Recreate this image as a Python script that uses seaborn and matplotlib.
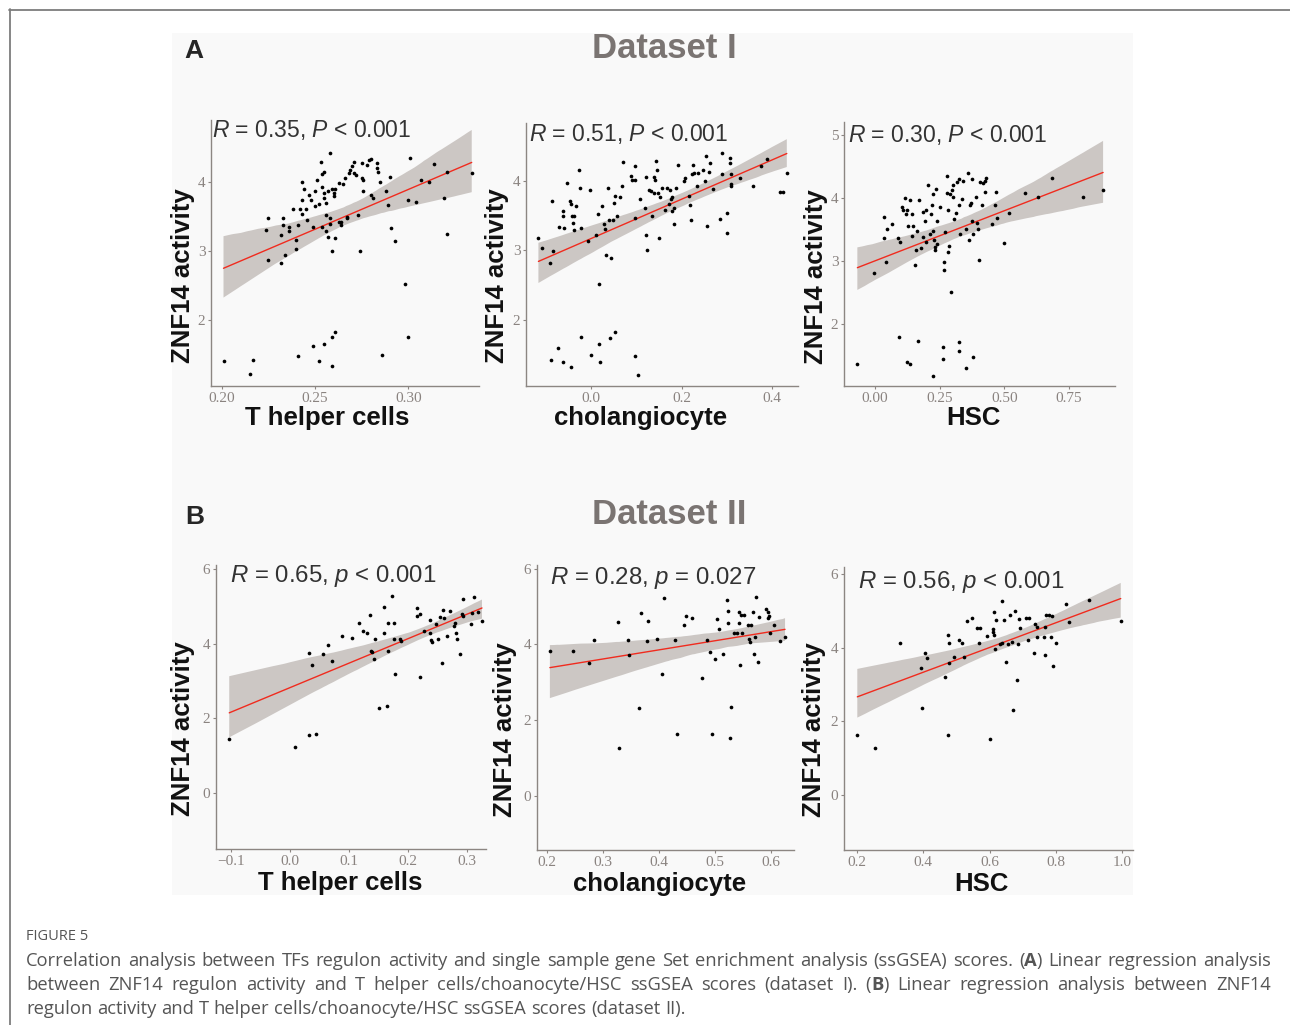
import numpy as np
import matplotlib
matplotlib.use('Agg')
import matplotlib.pyplot as plt
import seaborn as sns
from matplotlib.collections import PolyCollection
from matplotlib.lines import Line2D
from matplotlib.patches import Rectangle

# ---- data (x = ssGSEA score, y = ZNF14 regulon activity) ----

# dataset I, T helper cells
a_th_x = [0.201, 0.215, 0.217, 0.241, 0.249, 0.252, 0.255, 0.259, 0.261, 0.259,
          0.286, 0.298, 0.300, 0.224, 0.225, 0.225, 0.232, 0.232, 0.233, 0.234,
          0.233, 0.236, 0.236, 0.238, 0.240, 0.240, 0.241, 0.242, 0.243, 0.243,
          0.243, 0.244, 0.245, 0.246, 0.247, 0.248, 0.249, 0.250, 0.250, 0.251,
          0.252, 0.253, 0.254, 0.254, 0.254, 0.255, 0.255, 0.255, 0.256, 0.256,
          0.256, 0.257, 0.257, 0.258, 0.258, 0.258, 0.259, 0.259, 0.260, 0.260,
          0.261, 0.261, 0.263, 0.263, 0.264, 0.264, 0.265, 0.266, 0.267, 0.267,
          0.268, 0.269, 0.270, 0.271, 0.271, 0.272, 0.273, 0.274, 0.275, 0.275,
          0.276, 0.276, 0.278, 0.279, 0.280, 0.280, 0.281, 0.283, 0.283, 0.284,
          0.285, 0.288, 0.289, 0.290, 0.291, 0.293, 0.300, 0.301, 0.304, 0.307,
          0.311, 0.314, 0.319, 0.321, 0.321, 0.334]
a_th_y = [1.41, 1.22, 1.42, 1.48, 1.63, 1.41, 1.66, 1.75, 1.83, 1.34,
          1.50, 2.52, 1.75, 3.30, 2.87, 3.47, 2.83, 3.23, 3.47, 2.94,
          3.37, 3.35, 3.28, 3.60, 3.16, 3.02, 3.37, 3.61, 3.53, 3.73,
          3.99, 3.89, 3.60, 3.45, 3.81, 3.73, 3.35, 3.64, 3.87, 4.03,
          3.67, 4.29, 3.92, 3.35, 4.11, 4.14, 3.84, 3.77, 3.69, 3.52,
          3.29, 3.20, 3.86, 4.41, 3.39, 3.48, 3.89, 2.99, 3.79, 3.83,
          3.89, 3.18, 3.42, 3.98, 3.37, 3.41, 3.97, 4.05, 3.47, 3.49,
          4.12, 4.17, 4.23, 4.13, 4.29, 4.10, 3.52, 2.99, 4.27, 4.05,
          4.02, 3.86, 4.24, 4.31, 3.81, 4.32, 3.76, 4.19, 4.27, 4.14,
          4.00, 3.86, 3.66, 4.07, 3.33, 3.14, 3.74, 4.34, 3.70, 4.02,
          3.99, 4.25, 3.77, 4.14, 3.24, 4.13]

# dataset I, cholangiocyte
a_ch_x = [-0.116, -0.107, -0.087, -0.090, -0.083, -0.088, -0.071, -0.072, -0.061, -0.061,
          -0.060, -0.061, -0.052, -0.046, -0.044, -0.044, -0.041, -0.040, -0.038, -0.037,
          -0.032, -0.026, -0.025, -0.022, -0.021, -0.006, -0.002, 0.000, 0.011, 0.016,
          0.018, 0.018, 0.020, 0.024, 0.028, 0.031, 0.032, 0.038, 0.040, 0.041,
          0.044, 0.048, 0.050, 0.052, 0.054, 0.057, 0.065, 0.068, 0.070, 0.088,
          0.090, 0.096, 0.097, 0.096, 0.097, 0.103, 0.108, 0.119, 0.121, 0.121,
          0.123, 0.127, 0.132, 0.134, 0.138, 0.140, 0.141, 0.143, 0.145, 0.147,
          0.150, 0.152, 0.156, 0.163, 0.167, 0.172, 0.174, 0.177, 0.178, 0.179,
          0.184, 0.184, 0.187, 0.193, 0.206, 0.207, 0.216, 0.218, 0.221, 0.222,
          0.224, 0.228, 0.233, 0.237, 0.248, 0.252, 0.253, 0.255, 0.260, 0.263,
          0.270, 0.285, 0.288, 0.290, 0.299, 0.301, 0.307, 0.307, 0.309, 0.309,
          0.309, 0.329, 0.358, 0.375, 0.388, 0.417, 0.424, 0.432]
a_ch_y = [3.18, 3.03, 3.71, 2.82, 2.99, 1.42, 3.34, 1.60, 3.56, 3.50,
          3.32, 1.40, 3.97, 3.71, 3.66, 1.33, 3.50, 3.39, 3.49, 3.29,
          3.64, 4.16, 3.89, 3.32, 1.75, 3.14, 3.86, 1.50, 3.22, 3.52,
          2.52, 1.66, 1.40, 3.64, 3.38, 3.30, 2.94, 3.89, 3.44, 1.74,
          2.89, 3.44, 3.68, 1.83, 3.78, 3.49, 3.76, 3.92, 4.27, 4.07,
          4.01, 4.21, 4.01, 3.46, 1.48, 1.21, 3.74, 3.61, 4.06, 3.22,
          3.00, 3.87, 3.85, 3.49, 4.06, 3.83, 4.01, 4.29, 4.15, 3.82,
          3.18, 3.77, 3.89, 3.58, 3.89, 3.66, 3.87, 3.74, 3.57, 3.76,
          3.61, 3.38, 3.89, 4.23, 4.00, 4.04, 3.78, 3.65, 3.43, 4.10,
          4.23, 4.11, 3.92, 4.11, 4.16, 3.99, 4.36, 3.35, 4.13, 4.25,
          3.88, 3.45, 4.40, 4.10, 3.25, 3.53, 4.33, 4.25, 4.09, 3.96,
          3.92, 4.04, 3.93, 4.21, 4.31, 3.84, 3.84, 4.11]

# dataset I, HSC
a_hsc_x = [-0.068, -0.004, 0.035, 0.036, 0.043, 0.048, 0.064, 0.090, 0.094, 0.097,
           0.103, 0.109, 0.116, 0.120, 0.122, 0.125, 0.129, 0.135, 0.135, 0.142,
           0.144, 0.148, 0.154, 0.158, 0.161, 0.167, 0.170, 0.176, 0.184, 0.187,
           0.193, 0.196, 0.199, 0.206, 0.212, 0.215, 0.219, 0.223, 0.223, 0.225,
           0.228, 0.230, 0.233, 0.236, 0.238, 0.241, 0.251, 0.261, 0.261, 0.266,
           0.268, 0.270, 0.277, 0.279, 0.282, 0.283, 0.287, 0.290, 0.293, 0.296,
           0.300, 0.302, 0.305, 0.313, 0.318, 0.323, 0.326, 0.326, 0.326, 0.328,
           0.338, 0.341, 0.350, 0.351, 0.360, 0.364, 0.367, 0.369, 0.373, 0.376,
           0.377, 0.380, 0.390, 0.395, 0.399, 0.401, 0.405, 0.412, 0.416, 0.425,
           0.426, 0.428, 0.453, 0.463, 0.467, 0.472, 0.498, 0.519, 0.580, 0.628,
           0.683, 0.802, 0.881]
a_hsc_y = [1.37, 2.81, 3.69, 3.36, 2.98, 3.51, 3.59, 3.36, 1.80, 3.30,
           3.85, 3.80, 4.00, 3.75, 3.81, 1.40, 3.56, 1.37, 3.96, 3.74,
           3.39, 3.55, 2.94, 3.18, 3.48, 1.74, 3.96, 3.21, 3.77, 3.38,
           3.63, 3.80, 3.30, 4.21, 3.42, 3.74, 3.88, 3.47, 4.06, 1.18,
           3.33, 3.22, 3.17, 4.14, 3.27, 3.63, 3.85, 1.63, 1.45, 2.98,
           2.86, 3.46, 4.35, 4.07, 3.14, 3.81, 3.23, 4.06, 2.51, 4.12,
           4.02, 4.21, 3.67, 3.76, 4.25, 4.30, 3.88, 1.72, 1.58, 3.43,
           3.98, 4.26, 3.51, 1.31, 4.39, 3.33, 3.88, 3.92, 3.64, 4.29,
           1.48, 3.42, 4.01, 3.60, 3.51, 3.01, 4.25, 3.88, 4.23, 4.09,
           4.27, 4.32, 3.59, 3.89, 4.09, 3.68, 3.28, 3.76, 4.07, 4.02,
           4.32, 4.02, 4.13]

# dataset II, T helper cells
b_th_x = [-0.103, 0.009, 0.033, 0.033, 0.038, 0.045, 0.056, 0.065, 0.071, 0.088,
          0.105, 0.118, 0.124, 0.130, 0.136, 0.137, 0.139, 0.143, 0.144, 0.152,
          0.159, 0.160, 0.165, 0.167, 0.167, 0.174, 0.177, 0.177, 0.179, 0.187,
          0.189, 0.216, 0.216, 0.220, 0.220, 0.228, 0.238, 0.238, 0.239, 0.241,
          0.248, 0.252, 0.254, 0.258, 0.260, 0.262, 0.266, 0.271, 0.279, 0.280,
          0.282, 0.283, 0.288, 0.292, 0.293, 0.294, 0.307, 0.309, 0.312, 0.320,
          0.326]
b_th_y = [1.46, 1.23, 3.74, 1.57, 3.44, 1.58, 3.71, 3.95, 3.53, 4.20,
          4.15, 4.55, 4.33, 4.29, 4.76, 3.80, 3.77, 3.59, 4.11, 2.28,
          4.98, 4.29, 2.32, 4.55, 3.81, 5.28, 4.55, 4.12, 3.20, 4.11,
          4.06, 4.95, 4.75, 4.80, 3.10, 4.33, 4.64, 4.29, 4.09, 4.04,
          4.51, 4.12, 4.70, 3.48, 4.89, 4.69, 4.21, 4.86, 4.46, 4.55,
          4.29, 4.12, 3.71, 4.80, 5.18, 4.73, 4.51, 4.82, 5.25, 4.84,
          4.60]

# dataset II, cholangiocyte
b_ch_x = [0.205, 0.247, 0.275, 0.284, 0.326, 0.328, 0.345, 0.346, 0.365, 0.367,
          0.379, 0.381, 0.397, 0.406, 0.409, 0.429, 0.432, 0.444, 0.448, 0.458,
          0.476, 0.485, 0.491, 0.495, 0.500, 0.503, 0.507, 0.514, 0.521, 0.523,
          0.524, 0.526, 0.529, 0.534, 0.539, 0.542, 0.543, 0.544, 0.546, 0.548,
          0.551, 0.558, 0.560, 0.563, 0.564, 0.567, 0.570, 0.571, 0.574, 0.577,
          0.579, 0.591, 0.594, 0.595, 0.596, 0.599, 0.605, 0.616, 0.625]
b_ch_y = [3.82, 3.82, 3.50, 4.11, 4.58, 1.27, 4.11, 3.72, 2.32, 4.82,
          4.09, 4.62, 4.14, 3.21, 5.24, 4.11, 1.62, 4.50, 4.76, 4.71,
          3.12, 4.11, 3.79, 1.62, 3.60, 4.66, 4.41, 3.74, 5.17, 4.88,
          4.56, 1.51, 2.35, 4.29, 4.29, 4.56, 4.85, 3.45, 4.79, 4.29,
          4.79, 4.51, 4.14, 4.05, 4.51, 4.86, 3.74, 4.20, 5.26, 3.54,
          4.73, 4.94, 4.71, 4.85, 4.76, 4.29, 4.51, 4.09, 4.20]

# dataset II, HSC
b_hsc_x = [0.201, 0.255, 0.330, 0.392, 0.395, 0.405, 0.412, 0.466, 0.476, 0.478,
           0.478, 0.476, 0.493, 0.509, 0.516, 0.523, 0.533, 0.546, 0.563, 0.568,
           0.571, 0.592, 0.602, 0.609, 0.610, 0.612, 0.615, 0.617, 0.620, 0.632,
           0.637, 0.639, 0.644, 0.650, 0.657, 0.662, 0.667, 0.672, 0.677, 0.682,
           0.687, 0.690, 0.692, 0.710, 0.717, 0.720, 0.734, 0.737, 0.742, 0.744,
           0.765, 0.766, 0.768, 0.771, 0.778, 0.786, 0.788, 0.791, 0.801, 0.830,
           0.841, 0.900, 0.996]
b_hsc_y = [1.63, 1.29, 4.14, 3.46, 2.36, 3.85, 3.73, 3.21, 4.34, 4.12,
           3.58, 1.62, 3.76, 4.21, 4.14, 3.76, 4.72, 4.81, 4.54, 4.12,
           4.54, 4.33, 1.52, 4.42, 4.52, 4.34, 4.96, 3.96, 4.75, 4.09,
           5.26, 4.12, 4.75, 3.60, 4.09, 4.88, 4.16, 2.31, 4.99, 3.12,
           4.09, 4.78, 4.54, 4.81, 4.21, 4.81, 3.85, 4.63, 4.57, 4.30,
           4.30, 4.57, 3.80, 4.90, 4.88, 4.30, 4.87, 3.50, 4.12, 5.18,
           4.69, 5.29, 4.72]

stat_labels = [r'$\it{R}$ = 0.35, $\it{P}$ < 0.001', r'$\it{R}$ = 0.51, $\it{P}$ < 0.001',
               r'$\it{R}$ = 0.30, $\it{P}$ < 0.001', r'$\it{R}$ = 0.65, $\it{p}$ < 0.001',
               r'$\it{R}$ = 0.28, $\it{p}$ = 0.027', r'$\it{R}$ = 0.56, $\it{p}$ < 0.001']
cell_names = ['T helper cells', 'cholangiocyte', 'HSC', 'T helper cells', 'cholangiocyte', 'HSC']

caption_lines = [
    "Correlation analysis between TFs regulon activity and single sample gene Set enrichment analysis (ssGSEA) scores. (A) Linear regression analysis",
    "between ZNF14 regulon activity and T helper cells/choanocyte/HSC ssGSEA scores (dataset I). (B) Linear regression analysis between ZNF14",
    "regulon activity and T helper cells/choanocyte/HSC ssGSEA scores (dataset II).",
]

# ------- style -------
sns.set_theme(style='white')
plt.rcParams['font.family'] = ['Liberation Serif', 'DejaVu Serif']
plt.rcParams['mathtext.fontset'] = 'custom'
plt.rcParams['mathtext.it'] = 'Liberation Sans:italic'
plt.rcParams['mathtext.rm'] = 'Liberation Sans'

W, H = 1290, 1025
SANS = ['Liberation Sans', 'DejaVu Sans']
spine_col = '#8c8682'


def fx(x):
    return x / W


def fy(y):
    return 1 - y / H


fig = plt.figure(figsize=(W / 100, H / 100), dpi=100)
fig.patch.set_facecolor('white')

# light panel behind the plots + outer frame
fig.add_artist(Rectangle((fx(172), fy(895)), (1133 - 172) / W, (895 - 33) / H,
                         transform=fig.transFigure, facecolor='#f9f9f9',
                         edgecolor='none', zorder=-1))
fig.add_artist(Line2D([fx(9), 1], [fy(9.5), fy(9.5)], transform=fig.transFigure,
                      color='#7d7d7d', lw=1.3))
fig.add_artist(Line2D([fx(9.5), fx(9.5)], [0, fy(9)], transform=fig.transFigure,
                      color='#7d7d7d', lw=1.3))

# per panel: data, axes box in px (l, t, r, b), limits, ticks, label spots
panels = [
    (a_th_x, a_th_y, (211, 120, 479, 386), (0.1943, 0.3379), (1.046, 4.89),
     [0.20, 0.25, 0.30], '{:.2f}', [2, 3, 4], (212, 130), (327, 418), (183, 276)),
    (a_ch_x, a_ch_y, (526, 123, 798, 386), (-0.1434, 0.4567), (1.05, 4.83),
     [0.0, 0.2, 0.4], '{:.1f}', [2, 3, 4], (529, 134), (641, 418), (497, 276)),
    (a_hsc_x, a_hsc_y, (844, 122, 1115, 386), (-0.1196, 0.927), (1.02, 5.2),
     [0.00, 0.25, 0.50, 0.75], '{:.2f}', [2, 3, 4, 5], (848, 135), (973, 418), (816, 277)),
    (b_th_x, b_th_y, (216, 565, 486, 849), (-0.1255, 0.3328), (-1.49, 6.1),
     [-0.1, 0.0, 0.1, 0.2, 0.3], '{:.1f}', [0, 2, 4, 6], (230, 576), (340, 883), (183, 729)),
    (b_ch_x, b_ch_y, (537, 565, 794, 850), (0.182, 0.641), (-1.44, 6.1),
     [0.2, 0.3, 0.4, 0.5, 0.6], '{:.1f}', [0, 2, 4, 6], (550, 578), (660, 884), (505, 730)),
    (b_hsc_x, b_hsc_y, (844, 567, 1133, 850), (0.1608, 1.033), (-1.49, 6.19),
     [0.2, 0.4, 0.6, 0.8, 1.0], '{:.1f}', [0, 2, 4, 6], (858, 582), (981, 884), (814, 730)),
]

for i, (xs, ys, box, xlim, ylim, xt, xfmt, yt, stat_pos, xl_pos, yl_pos) in enumerate(panels):
    l, t, r, b = box
    ax = fig.add_axes([fx(l), fy(b), (r - l) / W, (b - t) / H])
    ax.set_facecolor('none')
    sns.regplot(x=np.array(xs), y=np.array(ys), ax=ax, ci=95, seed=7,
                color='#9a9490',
                scatter_kws={'s': 7, 'color': 'black', 'linewidths': 0, 'alpha': 1, 'zorder': 3},
                line_kws={'color': '#f02b1e', 'lw': 1.0, 'zorder': 2})
    for c in ax.collections:
        if isinstance(c, PolyCollection):
            c.set_facecolor('#ccc7c4')
            c.set_edgecolor('none')
            c.set_alpha(1)
            c.set_zorder(1)
    ax.set_xlim(*xlim)
    ax.set_ylim(*ylim)
    ax.set_xticks(xt)
    ax.set_xticklabels([xfmt.format(v).replace('-', '\u2212') for v in xt])
    ax.set_yticks(yt)
    ax.set_yticklabels([str(v) for v in yt])
    ax.set_xlabel('')
    ax.set_ylabel('')
    ax.tick_params(axis='both', bottom=True, left=True, length=2, width=0.8,
                   color=spine_col, labelcolor='#8a8380', labelsize=11, pad=2)
    for s in ['top', 'right']:
        ax.spines[s].set_visible(False)
    for s in ['left', 'bottom']:
        ax.spines[s].set_color(spine_col)
        ax.spines[s].set_linewidth(1.0)
    ax.grid(False)

    fig.text(fx(stat_pos[0]), fy(stat_pos[1]), stat_labels[i], ha='left', va='center',
             fontsize=16.5 if i < 3 else 17.3, color='#333333', family=SANS)
    fig.text(fx(xl_pos[0]), fy(xl_pos[1]), cell_names[i], ha='center', va='center',
             fontsize=18.5, fontweight='bold', family=SANS, color='#111111')
    fig.text(fx(yl_pos[0]), fy(yl_pos[1]), 'ZNF14 activity', rotation=90, ha='center',
             va='center', fontsize=18.5, fontweight='bold', family=SANS, color='#111111')

# panel letters and dataset titles
fig.text(fx(194), fy(51), 'A', ha='center', va='center', fontsize=19, fontweight='bold', family=SANS)
fig.text(fx(195), fy(517), 'B', ha='center', va='center', fontsize=19, fontweight='bold', family=SANS)
fig.text(fx(664), fy(48), 'Dataset I', ha='center', va='center', fontsize=25,
         fontweight='bold', family=SANS, color='#7a7472')
fig.text(fx(669), fy(515), 'Dataset II', ha='center', va='center', fontsize=25,
         fontweight='bold', family=SANS, color='#7a7472')

# ------- caption -------
cap_style = dict(fontsize=13.2, family=['Open Sans', 'DejaVu Sans'], color='#555555',
                 va='center', ha='left')
fig.text(fx(26), fy(937), 'FIGURE 5', fontsize=10.5, family=['Open Sans', 'DejaVu Sans'],
         color='#555555', va='center', ha='left')

renderer = fig.canvas.get_renderer()


def caption_line(line, y, justify):
    words = []
    for w in line.split(' '):
        if w in ('(A)', '(B)'):
            parts = [('(', 'normal'), (w[1], 'bold'), (')', 'normal')]
        else:
            parts = [(w, 'normal')]
        items = []
        for s, wt in parts:
            tt = fig.text(0, fy(y), s, fontweight=wt, **cap_style)
            items.append((tt, tt.get_window_extent(renderer).width / W))
        words.append(items)
    total = sum(w for it in words for _, w in it)
    left, right = fx(26), fx(1271)
    gap = (right - left - total) / (len(words) - 1) if justify else 4.8 / W
    x = left
    for it in words:
        for tt, w in it:
            tt.set_x(x)
            x += w
        x += gap


for k, line in enumerate(caption_lines):
    caption_line(line, 961 + 24 * k, justify=(k < 2))

fig.savefig('out.png', dpi=100)
